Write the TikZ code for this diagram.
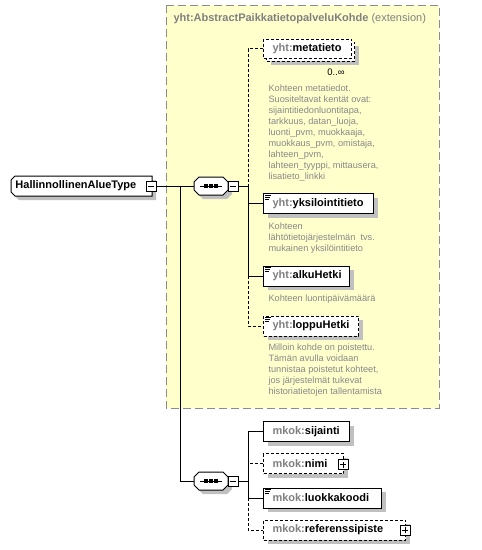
\documentclass[tikz,border=0pt]{standalone}
\usepackage{fontspec}
\setmainfont{Liberation Sans}
\usetikzlibrary{shadows}
\definecolor{ext}{HTML}{FFFFCC}
\definecolor{bordergray}{HTML}{8C8C8C}
\definecolor{pfgray}{HTML}{808080}
\definecolor{descgray}{HTML}{888888}
\definecolor{shadowgray}{HTML}{C0C0C0}
\newcommand\pf[1]{\textcolor{pfgray}{#1}}
\newcommand\simpleicon[1]{\draw[line width=0.8pt] ([xshift=2pt,yshift=-2pt]#1.north west) -- ++(6,0) ([xshift=2pt,yshift=-4pt]#1.north west) -- ++(5,0) ([xshift=2pt,yshift=-6pt]#1.north west) -- ++(4,0);}
\newcommand\seqdots[1]{\draw[line width=1pt] ([xshift=-11pt]#1.center) -- ([xshift=11pt]#1.center);
  \foreach \dx in {-5,0,5} {\fill ([xshift=\dx pt]#1.center) +(-1.6,-1.6) rectangle +(1.6,1.6);}}
\begin{document}
\begin{tikzpicture}[x=1pt,y=-1pt,line width=1pt,
  shad/.style={drop shadow={shadow xshift=4pt,shadow yshift=-4pt,fill=shadowgray,opacity=1}},
  elbox/.style={draw=black,fill=white,line width=1pt,minimum height=20pt,inner sep=0pt,anchor=west,align=left,font=\fontsize{11}{13}\selectfont\bfseries},
  optbox/.style={elbox,dash pattern=on 3pt off 2pt},
  conn/.style={draw=black,line width=1pt},
  optconn/.style={conn,dash pattern=on 3pt off 2pt},
  desc/.style={anchor=north west,inner sep=0pt,align=left,text=descgray,font=\fontsize{9.2}{11}\selectfont},
  pmbox/.style={draw=black,fill=white,line width=1pt,minimum size=10pt,inner sep=0pt},
  minusbox/.style={pmbox,path picture={\draw[line width=1pt] ([xshift=2pt]path picture bounding box.west)--([xshift=-2pt]path picture bounding box.east);}},
  plusbox/.style={pmbox,path picture={\draw[line width=1pt] ([xshift=2pt]path picture bounding box.west)--([xshift=-2pt]path picture bounding box.east) ([yshift=-2pt]path picture bounding box.north)--([yshift=2pt]path picture bounding box.south);}},
  shapefill/.style={draw=black,fill=white,line width=1pt},
  shadowfill/.style={fill=shadowgray,shift={(4,4)}},
  anchorbox/.style={inner sep=0pt,minimum width=#1},
]
\useasboundingbox (0,0) rectangle (482,550);
\fill[white] (0,0) rectangle (482,550);
% extension region
\path[fill=ext,draw=bordergray,line width=1pt,dash pattern=on 8pt off 4pt] (166,5) rectangle (439,408);
\node[anchor=west,inner sep=0pt,text=pfgray,font=\fontsize{11}{13}\selectfont] (title) at (173,19)
  {\bfseries yht:AbstractPaikkatietopalveluKohde\mdseries\ (extension)};

% main type (left corners cut)
\fill[shadowfill] (15,176) -- (152,176) -- (152,196) -- (15,196) -- (11,192) -- (11,180) -- cycle;
\draw[shapefill] (15,176) -- (152,176) -- (152,196) -- (15,196) -- (11,192) -- (11,180) -- cycle;
\node[anchorbox=141pt,minimum height=20pt] (main) at (81.5,186) {};
\node[anchor=west,inner sep=0pt,font=\fontsize{11}{13}\selectfont\bfseries] (maintext) at (15,186) {HallinnollinenAlueType};
\node[minusbox] (mainm) at (151,186) {};

% sequences (octagons)
\fill[shadowfill] (199,177) -- (223,177) -- (228,182) -- (228,190) -- (223,195) -- (199,195) -- (194,190) -- (194,182) -- cycle;
\draw[shapefill] (199,177) -- (223,177) -- (228,182) -- (228,190) -- (223,195) -- (199,195) -- (194,190) -- (194,182) -- cycle;
\node[anchorbox=34pt,minimum height=18pt] (seq1) at (211,186) {};
\seqdots{seq1}
\node[minusbox] (seq1m) at (233,186) {};

\fill[shadowfill] (199,472) -- (223,472) -- (228,477) -- (228,485) -- (223,490) -- (199,490) -- (194,485) -- (194,477) -- cycle;
\draw[shapefill] (199,472) -- (223,472) -- (228,477) -- (228,485) -- (223,490) -- (199,490) -- (194,485) -- (194,477) -- cycle;
\node[anchorbox=34pt,minimum height=18pt] (seq2) at (211,481) {};
\seqdots{seq2}
\node[minusbox] (seq2m) at (233,481) {};

% upper elements
\node[optbox,text width=88pt,minimum height=19pt,shad] (metaback) at (266,51.5) {};
\node[optbox,text width=88pt,minimum height=19pt] (meta) at (263,48.5) {\hspace*{9pt}\pf{yht:}metatieto};
\node[inner sep=0pt,font=\fontsize{9.5}{11}\selectfont] (mult) at (336,72) {0..∞};
\node[desc] (metadesc) at (268,84.6) {Kohteen metatiedot.\\Suositeltavat kentät ovat:\\sijaintitiedonluontitapa,\\tarkkuus, datan\_luoja,\\luonti\_pvm, muokkaaja,\\muokkaus\_pvm, omistaja,\\lahteen\_pvm,\\lahteen\_tyyppi, mittausera,\\lisatieto\_linkki};

\node[elbox,text width=110pt,shad] (yks) at (263,203.5) {\hspace*{9pt}\pf{yht:}yksilointitieto};
\simpleicon{yks}
\node[desc] (yksdesc) at (268,222.6) {Kohteen\\lähtötietojärjestelmän\ \ tvs.\\mukainen yksilöintitieto};

\node[elbox,text width=86pt,shad] (alku) at (263,276) {\hspace*{9pt}\pf{yht:}alkuHetki};
\simpleicon{alku}
\node[desc] (alkudesc) at (268,294.6) {Kohteen luontipäivämäärä};

\node[optbox,text width=95pt,shad] (loppu) at (263,326) {\hspace*{9pt}\pf{yht:}loppuHetki};
\simpleicon{loppu}
\node[desc] (loppudesc) at (268,343.6) {Milloin kohde on poistettu.\\Tämän avulla voidaan\\tunnistaa poistetut kohteet,\\jos järjestelmät tukevat\\historiatietojen tallentamista};

% lower elements
\node[elbox,text width=86pt,shad] (sij) at (263,431.5) {\hspace*{9pt}\pf{mkok:}sijainti};
\node[optbox,text width=80pt,shad] (nimi) at (263,463.5) {\hspace*{9pt}\pf{mkok:}nimi};
\node[plusbox] (nimip) at (343,464.5) {};
\node[elbox,text width=118pt,shad] (luok) at (263,498) {\hspace*{9pt}\pf{mkok:}luokkakoodi};
\simpleicon{luok}
\node[optbox,text width=142pt,shad] (ref) at (263,530) {\hspace*{9pt}\pf{mkok:}referenssipiste};
\node[plusbox] (refp) at (405,530) {};

% junctions
\coordinate (j0) at (180,186);
\coordinate (j1) at (248,186);
\coordinate (j1a) at (248,276);
\coordinate (j2) at (248,481);
\coordinate (j2a) at (248,498);

% connectors
\draw[conn] (mainm.east) -- (seq1.west);
\draw[conn] (j0) |- (seq2.west);
\draw[conn] (seq1m.east) -- (j1);
\draw[optconn] (meta.west) -| (j1);
\draw[conn] (j1) |- (yks.west);
\draw[conn] (j1) |- (alku.west);
\draw[optconn] (j1a) |- (loppu.west);
\draw[conn] (seq2m.east) -- (j2);
\draw[conn] (j2) |- (sij.west);
\draw[conn] (j2) |- (luok.west);
\draw[optconn] (nimi.west) -- (nimi.west -| j2);
\draw[optconn] (j2a) |- (ref.west);
\end{tikzpicture}
\end{document}
